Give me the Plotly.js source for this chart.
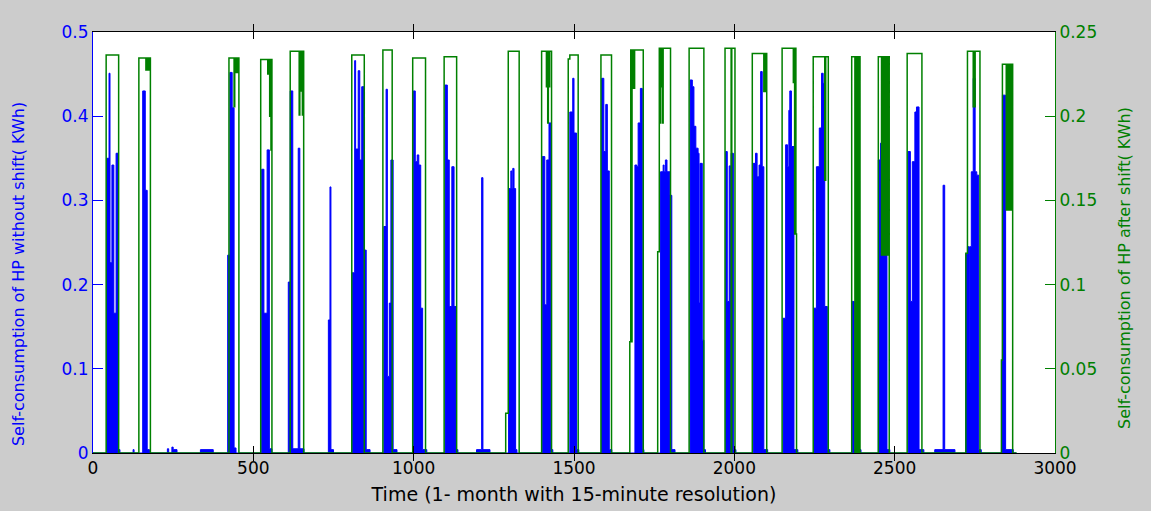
<!DOCTYPE html>
<html>
<head>
<meta charset="utf-8">
<script src="https://cdn.plot.ly/plotly-3.0.1.min.js"></script>
<style>
html,body{margin:0;padding:0;background:#cccccc;}
#chart{width:1151px;height:511px;}
</style>
</head>
<body>
<div id="chart"></div>
<script>
// Self-consumption of HP without shift (left axis, kWh) - step start time index and value
const blueT = [0,
 43,50,53,59,65,72,78,84, 125,128,
 155,163,169,176, 232,236,246,250,262,335,375,
 420,427,434,440,446,
 526,533,543,550,558,
 609,615,623,640,645,658,
 734,739,742,750,
 808,816,819,827,832,838,845,852,864,
 907,914,918,924,929,936,948,
 999,1005,1011,1016,1022,1028,1041,
 1098,1105,1111,1119,1126,1132,1138,
 1196,1212,1216,1238,
 1296,1303,1306,1309,1313,1318,1322,
 1401,1409,1415,1422,1428,1434,
 1487,1496,1500,1508,1515,
 1586,1593,1599,1604,1610,1618,
 1690,1696,1700,1707,1713,1718,
 1770,1778,1781,1785,1790,1799,1805,1815,
 1862,1869,1874,1880,1887,1890,1893,1900,1905,1910,
 1973,1978,1984,1990,1997,2005,
 2059,2066,2071,2077,2082,2087,2092,2104,
 2152,2160,2166,2170,2173,2178,2186,2198,
 2248,2256,2265,2272,2277,2282,2290,2298,
 2368,2374,2395,
 2449,2456,2462,2476,2485,
 2542,2549,2555,2563,2568,2576,2591,
 2625,2651,2656,2688,
 2722,2727,2733,2735,2739,2745,2751,2756,2762,2770,
 2833,2836,2846,2870,2880];
const blueV = [0,
 0.350,0.451,0.226,0.342,0.166,0.356,0.004,0, 0.004,0,
 0.430,0.312,0.004,0, 0.005,0,0.007,0.004,0,0.004,0,
 0.235,0.452,0.410,0.006,0,
 0.337,0.166,0.360,0.005,0,
 0.203,0.430,0.005,0.362,0.005,0,
 0.158,0.316,0.004,0,
 0.214,0.466,0.361,0.454,0.348,0.435,0.241,0.004,0,
 0.269,0.432,0.091,0.178,0.348,0.004,0,
 0.430,0.346,0.354,0.342,0.172,0.004,0,
 0.437,0.348,0.174,0.340,0.174,0.004,0,
 0.004,0.327,0.004,0,
 0.314,0.335,0.314,0.338,0.314,0.004,0,
 0.352,0.176,0.348,0.392,0.004,0,
 0.405,0.445,0.380,0.004,0,
 0.445,0.358,0.414,0.335,0.004,0,
 0.342,0.340,0.392,0.433,0.004,0,
 0.334,0.342,0.334,0.348,0.334,0.306,0.004,0,
 0.443,0.435,0.388,0.362,0.356,0.178,0.344,0.134,0.004,0,
 0.358,0.180,0.341,0.356,0.004,0,
 0.344,0.356,0.328,0.342,0.453,0.340,0.004,0,
 0.160,0.366,0.340,0.407,0.430,0.364,0.004,0,
 0.172,0.340,0.386,0.451,0.439,0.174,0.004,0,
 0.180,0.004,0,
 0.348,0.368,0.281,0.004,0,
 0.358,0.180,0.346,0.405,0.411,0.004,0,
 0.004,0.318,0.004,0,
 0.237,0.245,0.083,0.245,0.334,0.445,0.334,0.330,0.004,0,
 0.110,0.425,0.004,0,0];

// Self-consumption of HP after shift (right axis, kWh)
const greenT = [0,
 41,80,
 143,165,167,170,172,175,177,179,
 424,440,442,445,447,450,452,455,
 523,545,548,551,553,555,557,558,
 615,643,645,648,650,653,655,657,
 807,846,
 904,933,
 997,1037,
 1095,1134,
 1287,1295,1329,
 1399,1414,1416,1418,1420,1422,1424,1430,
 1482,1487,1513,
 1584,1617,
 1674,1677,1679,1681,1683,1685,1687,1689,1716,
 1761,1766,1768,1770,1772,1774,1776,1778,1801,
 1859,1905,
 1971,1990,1992,2002,
 2056,2092,2094,2096,2098,2101,
 2149,2184,2186,2188,2190,2192,2194,
 2246,2282,2285,2293,
 2366,2376,2378,2380,2382,2384,2386,2388,2390,2392,
 2449,2459,2461,2464,2466,2469,2471,2474,2476,2479,2481,2483,
 2539,2585,
 2722,2727,2745,2747,2749,2751,2766,
 2833,2836,2848,2850,2852,2854,2856,2858,2860,2862,2864,2866,2868,2880];
const greenV = [0,
 0.2363,0,
 0.2346,0.2275,0.2346,0.2275,0.2346,0.2275,0.2346,0,
 0.2346,0.2056,0.2346,0.2260,0.2346,0.2260,0.2346,0,
 0.2336,0.2250,0.2336,0.2000,0.2336,0.1800,0.2336,0,
 0.2385,0.2007,0.2385,0.2150,0.2385,0.2007,0.2385,0,
 0.2363,0,
 0.2393,0,
 0.2346,0,
 0.2353,0,
 0.0236,0.2385,0,
 0.2385,0.2175,0.2385,0.1960,0.2385,0.2175,0.2385,0,
 0.2340,0.2363,0,
 0.2363,0,
 0.0660,0.2393,0.0660,0.2393,0.2166,0.2393,0.2166,0.2393,0,
 0.1195,0.2403,0.1960,0.2403,0.2175,0.2403,0.1960,0.2403,0,
 0.2403,0,
 0.2403,0,0.2403,0,
 0.2373,0.2146,0.2373,0.2146,0.2373,0,
 0.2403,0.2200,0.2403,0.1300,0.2403,0.1300,0,
 0.2353,0.1620,0.2353,0,
 0.2353,0,0.2353,0,0.2353,0,0.2353,0,0.2353,0,
 0.2353,0.1176,0.2353,0.1176,0.2353,0.1176,0.2353,0.1176,0.2353,0.1176,0.2353,0,
 0.2373,0,
 0.1186,0.2385,0.2056,0.2385,0.2056,0.2385,0,
 0.0552,0.2308,0.1443,0.2308,0.1443,0.2308,0.1443,0.2308,0.1443,0.2308,0.1443,0.2308,0,0];

const xTicks = [0,500,1000,1500,2000,2500,3000];
const yTicks = [0,0.1,0.2,0.3,0.4,0.5];
const y2Ticks = [0,0.05,0.1,0.15,0.2,0.25];

const xTitle = 'Time (1- month with 15-minute resolution)';
const yTitle = 'Self-consumption of HP without shift( KWh)';
const y2Title = 'Self-consumption of HP after shift( KWh)';

const BLUE = '#0000ff', GREEN = '#008000';
const FONT = 'DejaVu Sans, Verdana, sans-serif';

const traces = [
 {x: blueT, y: blueV, type:'scatter', mode:'lines', line:{shape:'hv', color:BLUE, width:1},
  fill:'tozeroy', fillcolor:BLUE, yaxis:'y', hoverinfo:'skip', showlegend:false},
 {x: greenT, y: greenV, type:'scatter', mode:'lines', line:{shape:'hv', color:GREEN, width:1.5},
  yaxis:'y2', hoverinfo:'skip', showlegend:false}
];

const layout = {
 width:1151, height:511,
 paper_bgcolor:'#cccccc', plot_bgcolor:'#ffffff',
 margin:{l:93, r:96, t:32, b:58},
 font:{family:FONT, size:16, color:'#000'},
 showlegend:false,
 xaxis:{range:[0,3000], tickvals:xTicks, ticktext:xTicks.map(String),
  ticks:'inside', ticklen:7, tickcolor:'#000', tickwidth:1,
  showline:true, linecolor:'#000', linewidth:1, mirror:'allticks',
  showgrid:false, zeroline:false,
  tickfont:{family:FONT, size:17, color:'#000'},
  title:{text:xTitle, font:{family:FONT, size:19, color:'#000'}, standoff:10}},
 yaxis:{range:[0,0.5], tickvals:yTicks, ticktext:yTicks.map(String),
  ticks:'inside', ticklen:10, tickcolor:BLUE, tickwidth:1,
  showline:true, linecolor:BLUE, linewidth:1,
  showgrid:false, zeroline:false,
  tickfont:{family:FONT, size:17, color:BLUE}},
 yaxis2:{range:[0,0.25], tickvals:y2Ticks, ticktext:y2Ticks.map(String),
  overlaying:'y', side:'right',
  ticks:'inside', ticklen:10, tickcolor:GREEN, tickwidth:1,
  showline:true, linecolor:GREEN, linewidth:1,
  showgrid:false, zeroline:false,
  tickfont:{family:FONT, size:17, color:GREEN}},
 annotations:[
  {text:yTitle, xref:'paper', yref:'paper', x:-0.078, y:0.425, xanchor:'center', yanchor:'middle',
   textangle:-90, showarrow:false, font:{family:FONT, size:16, color:BLUE}},
  {text:y2Title, xref:'paper', yref:'paper', x:1.073, y:0.44, xanchor:'center', yanchor:'middle',
   textangle:-90, showarrow:false, font:{family:FONT, size:16, color:GREEN}}
 ]
};

Plotly.newPlot('chart', traces, layout, {displayModeBar:false, staticPlot:true});
</script>
</body>
</html>
